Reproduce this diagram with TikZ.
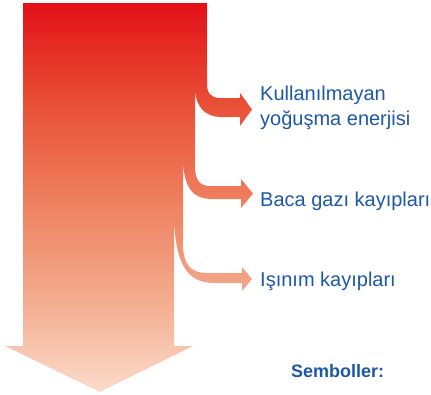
\documentclass[tikz,border=0pt]{standalone}
\usepackage{fontspec}
\setmainfont{Liberation Sans}
\usepackage{xcolor}
\usetikzlibrary{positioning}

\definecolor{akisA}{RGB}{227,16,23}
\definecolor{akisB}{RGB}{232,78,52}
\definecolor{akisC}{RGB}{238,128,95}
\definecolor{akisD}{RGB}{243,172,143}
\definecolor{akisE}{RGB}{251,220,203}
\definecolor{yazi}{RGB}{28,88,166}

\begin{document}
\begin{tikzpicture}[x=1pt, y=-1pt,
        lbl/.style={text=yazi, font=\fontsize{20}{25}\selectfont, inner sep=0pt, anchor=base west, align=left},
        baslik/.style={lbl, font=\bfseries\fontsize{18}{22}\selectfont}]

    \useasboundingbox (0,0) rectangle (431,394);

    % main flow with its three loss branches
    \begin{scope}
        \clip (23,3) -- (207,3) -- (207,84)
            .. controls (207,93) and (211,98) .. (220,98)
            -- (240,98) -- (240,93) -- (252,109.5) -- (240,126) -- (240,117) -- (222,117)
            .. controls (204,117) and (195,106) .. (195,86)
            -- (195,166)
            .. controls (195,179) and (199,186) .. (210,186)
            -- (241,186) -- (241,179) -- (253,193.5) -- (241,208) -- (241,199) -- (212,199)
            .. controls (190,199) and (183,184) .. (183,155)
            -- (183,243)
            .. controls (183,264) and (190,273) .. (207,273)
            -- (242,273) -- (242,267) -- (252,279) -- (242,291) -- (242,283) -- (214,283)
            .. controls (186,283) and (174,262) .. (174,210)
            -- (174,346) -- (193,346) -- (100,392) -- (5,346) -- (23,346) -- cycle;
        \foreach \ya/\yb/\ca/\cb in {3/100/akisA/akisB, 100/200/akisB/akisC,
                200/300/akisC/akisD, 300/392/akisD/akisE}
            \shade[top color=\ca, bottom color=\cb] (0,\ya) rectangle (431,\yb+1);
    \end{scope}

    \node[lbl] (kullanilmayan) at (260,125) {Kullanılmayan\\yoğuşma enerjisi};
    \node[lbl] (baca) at (260,206) {Baca gazı kayıpları};
    \node[lbl] (isinim) at (260,286) {Işınım kayıpları};
    \node[baslik] (semboller) at (291,377) {Semboller:};

\end{tikzpicture}
\end{document}
